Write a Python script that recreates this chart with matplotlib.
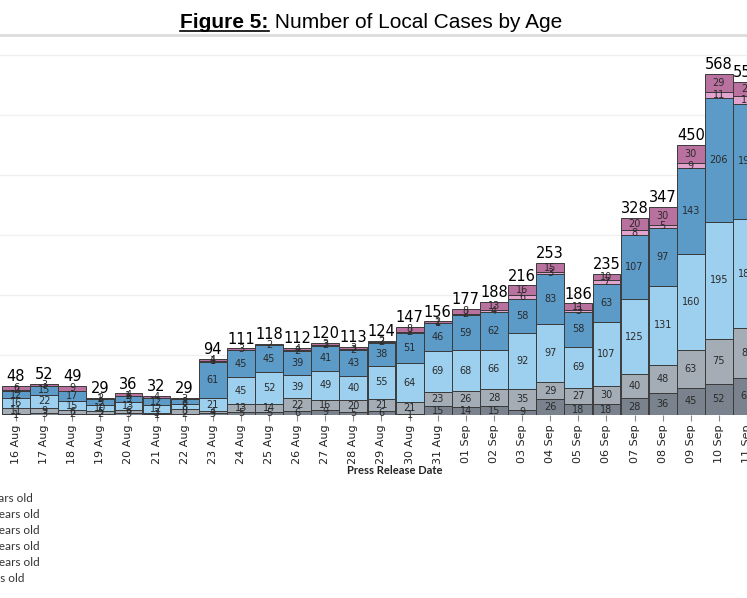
"""Figure 5 — número de casos locais por idade (barras empilhadas)."""

import matplotlib

matplotlib.use("Agg")

import matplotlib.pyplot as plt  # noqa: E402
import numpy as np  # noqa: E402

DATAS = [
    "16 Aug", "17 Aug", "18 Aug", "19 Aug", "20 Aug", "21 Aug", "22 Aug",
    "23 Aug", "24 Aug", "25 Aug", "26 Aug", "27 Aug", "28 Aug", "29 Aug",
    "30 Aug", "31 Aug", "01 Sep", "02 Sep", "03 Sep", "04 Sep", "05 Sep",
    "06 Sep", "07 Sep", "08 Sep", "09 Sep", "10 Sep", "11 Sep",
]
# séries de baixo para cima
GRUPO_1 = [1, 3, 2, 2, 3, 1, 2, 3, 5, 5, 6, 9, 5, 6, 1, 15, 14, 15, 9, 26, 18, 18, 28, 36, 45, 52, 62]
GRUPO_2 = [11, 9, 6, 5, 6, 3, 8, 4, 13, 14, 22, 16, 20, 21, 21, 23, 26, 28, 35, 29, 27, 30, 40, 48, 63, 75, 83]
GRUPO_3 = [16, 22, 15, 10, 13, 12, 8, 21, 45, 52, 39, 49, 40, 55, 64, 69, 68, 66, 92, 97, 69, 107, 125, 131, 160, 195, 181]
GRUPO_4 = [12, 15, 17, 9, 9, 12, 8, 61, 45, 45, 39, 41, 43, 38, 51, 46, 59, 62, 58, 83, 58, 63, 107, 97, 143, 206, 193]
GRUPO_5 = [2, 0, 0, 1, 1, 0, 0, 1, 0, 0, 2, 2, 2, 2, 2, 1, 2, 4, 6, 3, 3, 7, 8, 5, 9, 11, 12]
GRUPO_6 = [6, 3, 9, 2, 4, 4, 3, 4, 3, 2, 4, 3, 3, 2, 8, 2, 8, 13, 16, 15, 11, 10, 20, 30, 30, 29, 24]
SERIES = [GRUPO_1, GRUPO_2, GRUPO_3, GRUPO_4, GRUPO_5, GRUPO_6]
CORES = ["#7a838d", "#a4acb6", "#9dcfee", "#5c9bc8", "#e3a3cf", "#b9729f"]

# legenda (cortada pela borda esquerda no original)
LEGENDA = ["0-11 years old", "12-19 years old", "20-39 years old",
           "40-59 years old", "60-69 years old", "70+ years old"]

W, H = 747, 598
fig = plt.figure(figsize=(W / 100, H / 100), dpi=100)

# eixo ocupa toda a largura; 16 Aug fica em x=16 px, passo de 28.16 px
PASSO = 28.16
x0 = 16
ax = fig.add_axes([0, 1 - 415 / H, 1, (415 - 40) / H])
ax.set_xlim(-x0 / PASSO, (W - x0) / PASSO)
ax.set_ylim(0, 625)

x = np.arange(len(DATAS))
base = np.zeros(len(DATAS))
for serie, cor in zip(SERIES, CORES):
    vals = np.array(serie, dtype=float)
    ax.bar(x, vals, bottom=base, width=0.99, color=cor, edgecolor="#3a3a3a",
           linewidth=0.7, zorder=3)
    for xi, b, v in zip(x, base, vals):
        if v > 0:
            ax.text(xi, b + v / 2, f"{int(v)}", ha="center", va="center",
                    fontsize=7, color="#2a2a2a", zorder=4)
    base += vals

for xi, tot in zip(x, base):
    ax.text(xi, tot + 3, f"{int(tot)}", ha="center", va="bottom",
            fontsize=10.5, color="black", zorder=4)

for s in ax.spines.values():
    s.set_visible(False)
ax.set_yticks(range(100, 700, 100))
ax.set_yticklabels([])
ax.tick_params(axis="y", length=0)
ax.grid(axis="y", color="#f0f0f0", linewidth=1, zorder=0)
ax.set_xticks(x)
ax.set_xticklabels(DATAS, rotation=90, fontsize=8, color="#222222")
ax.tick_params(axis="x", length=4, color="#888888", pad=3)

# título com "Figure 5:" em negrito sublinhado
titulo_y = 1 - 22 / H
t1 = fig.text(0.5, titulo_y, "Figure 5:", fontsize=15, fontweight="bold",
              family="Liberation Sans", ha="right", va="center")
t2 = fig.text(0.5, titulo_y, " Number of Local Cases by Age", fontsize=15,
              family="Liberation Sans", ha="left", va="center")
fig.canvas.draw()
r = fig.canvas.get_renderer()
b1 = t1.get_window_extent(r)
b2 = t2.get_window_extent(r)
meio = (b1.x0 + b2.x1) / 2
desl = (371 - meio) / W
t1.set_x(0.5 + desl)
t2.set_x(0.5 + desl)
b1 = t1.get_window_extent(r)
fig.add_artist(plt.Line2D([b1.x0 / W, b1.x1 / W], [1 - 31 / H] * 2,
                          color="black", linewidth=1.2))
fig.add_artist(plt.Line2D([0, 1], [1 - 35 / H] * 2, color="#dcdcdc", linewidth=2))

fig.text(395 / W, 1 - 470 / H, "Press Release Date", fontsize=8, fontweight="bold",
         family="Lato", ha="center", va="center", color="#222222")

fins = [33, 40, 40, 40, 40, 25]
for i, (rot, fim) in enumerate(zip(LEGENDA, fins)):
    fig.text(fim / W, 1 - (498 + 16 * i) / H, rot, fontsize=8.5, family="Lato",
             ha="right", va="center", color="#333333")

fig.savefig("out.png", dpi=100)
